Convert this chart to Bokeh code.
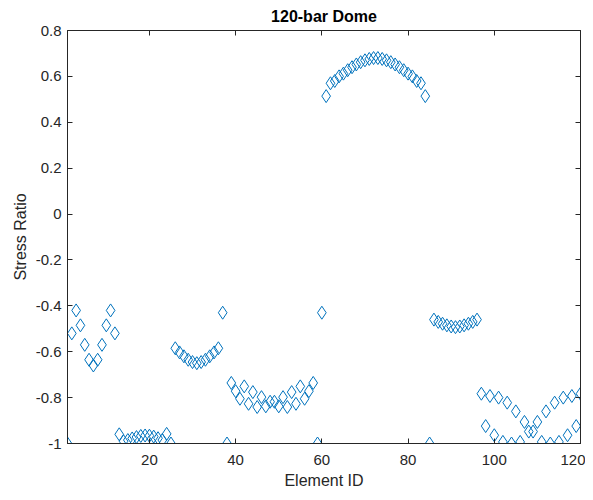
from bokeh.plotting import figure
from bokeh.models import Range1d, FixedTicker, LinearAxis, CustomJSTickFormatter
from bokeh.embed import file_html
from bokeh.resources import INLINE

element_id = list(range(1, 121))
stress_ratio = [
    -1.00, -0.52, -0.42, -0.485, -0.57, -0.635, -0.66, -0.635, -0.57, -0.485, -0.42, -0.52,
    -0.96, -0.99, -0.985, -0.978, -0.972, -0.967, -0.965, -0.966, -0.97, -0.977, -0.985, -0.958, -1.00,
    -0.585, -0.603, -0.62, -0.635, -0.645, -0.65, -0.645, -0.635, -0.62, -0.603, -0.585,
    -0.43, -1.00,
    -0.736, -0.772, -0.805, -0.751, -0.827, -0.776, -0.841, -0.798, -0.838, -0.818,
    -0.818, -0.838, -0.798, -0.841, -0.776, -0.827, -0.751, -0.805, -0.772, -0.736,
    -1.00, -0.43,
    0.514, 0.57, 0.58, 0.60, 0.612, 0.627, 0.64, 0.652, 0.662, 0.67, 0.676, 0.68,
    0.68, 0.676, 0.67, 0.662, 0.652, 0.64, 0.627, 0.612, 0.60, 0.58, 0.57, 0.514,
    -1.00,
    -0.46, -0.47, -0.478, -0.485, -0.49, -0.493, -0.49, -0.485, -0.478, -0.47, -0.46,
    -0.783, -0.924, -0.793, -0.964, -0.800, -0.993, -0.822, -1.00, -0.860, -0.993, -0.906, -0.948,
    -0.948, -0.906, -0.993, -0.860, -1.00, -0.822, -0.993, -0.800, -0.964, -0.793, -0.924, -0.783,
]

x_ticks = [20, 40, 60, 80, 100, 120]
y_ticks = [-1.0, -0.8, -0.6, -0.4, -0.2, 0.0, 0.2, 0.4, 0.6, 0.8]
y_tick_labels = ["-1", "-0.8", "-0.6", "-0.4", "-0.2", "0", "0.2", "0.4", "0.6", "0.8"]

AX = "#262626"
FONT = "Liberation Sans"

p = figure(width=585, height=492, x_range=Range1d(1, 120), y_range=Range1d(-1, 0.8),
           output_backend="svg", toolbar_location=None,
           min_border_left=67, min_border_right=5, min_border_top=30, min_border_bottom=49,
           title="120-bar Dome")
p.title.align = "center"
p.title.text_font = FONT
p.title.text_font_size = "16px"
p.title.text_font_style = "bold"
p.title.text_color = "#000000"
p.title.text_line_height = 1.0
p.title.standoff = 11
p.grid.visible = False
p.outline_line_color = AX
p.outline_line_width = 1

def style(ax):
    ax.axis_line_color = AX
    ax.major_tick_line_color = AX
    ax.major_tick_in = 5
    ax.major_tick_out = 0
    ax.minor_tick_line_color = None
    ax.major_label_text_font = FONT
    ax.major_label_text_font_size = "15px"
    ax.major_label_text_color = AX
    ax.axis_label_text_font = FONT
    ax.axis_label_text_font_size = "16px"
    ax.axis_label_text_font_style = "normal"
    ax.axis_label_text_color = AX

xa = p.xaxis[0]
ya = p.yaxis[0]
xa.ticker = FixedTicker(ticks=x_ticks)
ya.ticker = FixedTicker(ticks=y_ticks)
ya.major_label_overrides = {t: s for t, s in zip(y_ticks, y_tick_labels)}
xa.axis_label = "Element ID"
ya.axis_label = "Stress Ratio"
style(xa)
style(ya)
xa.major_label_standoff = 11
xa.axis_label_standoff = 4
ya.major_label_standoff = 6
ya.axis_label_standoff = 4

blank = CustomJSTickFormatter(code="return ''")
top = LinearAxis(ticker=FixedTicker(ticks=x_ticks), formatter=blank, major_label_standoff=0)
right = LinearAxis(ticker=FixedTicker(ticks=y_ticks), formatter=blank, major_label_standoff=0)
style(top)
style(right)
p.add_layout(top, "above")
p.add_layout(right, "right")

p.scatter(element_id, stress_ratio, marker="diamond", size=13,
          line_color="#0072BD", fill_color=None, line_width=1)

open("out.html", "w").write(file_html(p, INLINE))
